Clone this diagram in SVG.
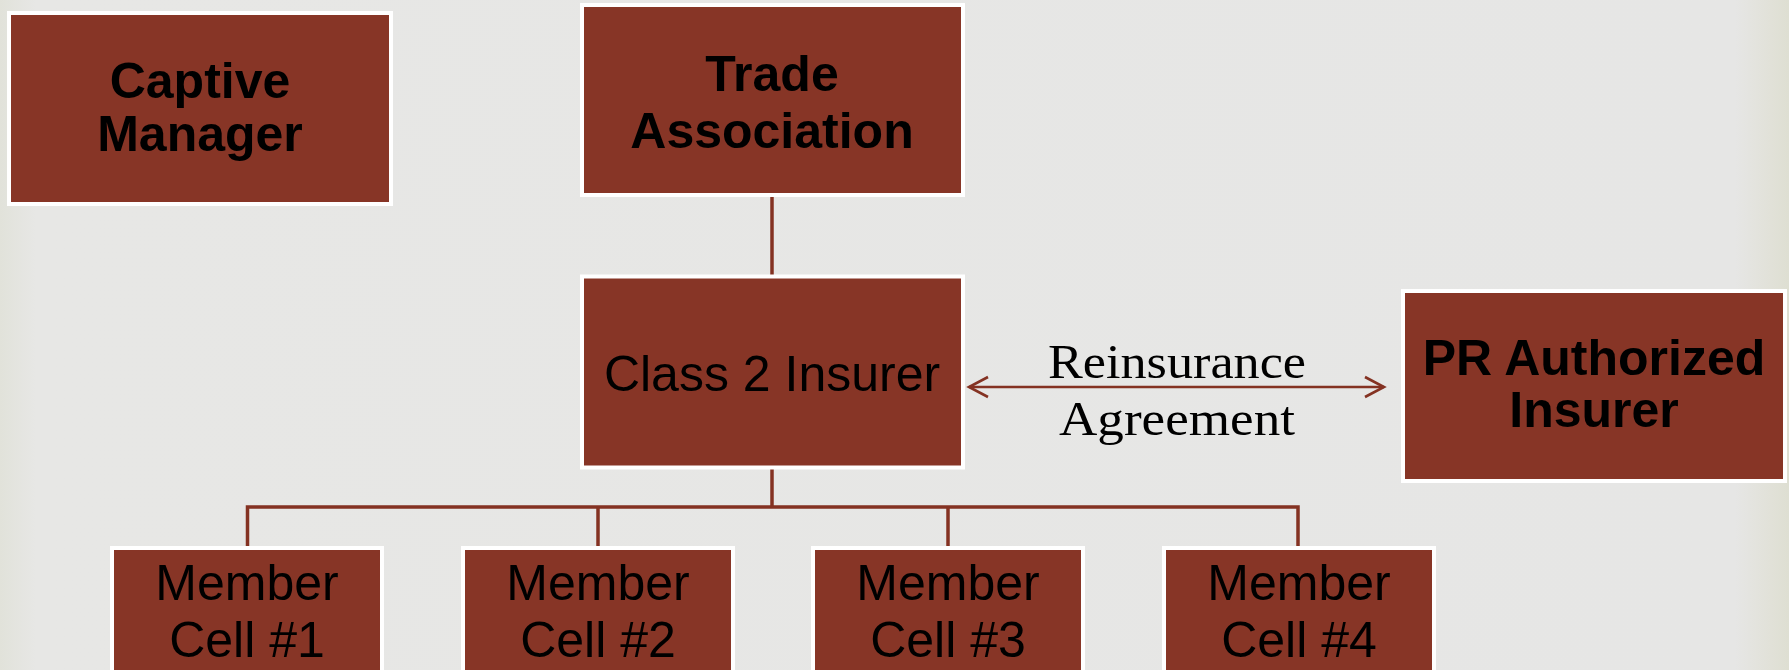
<svg xmlns="http://www.w3.org/2000/svg" width="1789" height="670" viewBox="0 0 1789 670">
  <defs>
    <linearGradient id="bg" x1="0" y1="0" x2="1" y2="0">
      <stop offset="0" stop-color="#e1e2da"/>
      <stop offset="0.02" stop-color="#e7e7e5"/>
      <stop offset="0.97" stop-color="#e6e6e5"/>
      <stop offset="0.99" stop-color="#e1e1d8"/>
      <stop offset="1" stop-color="#dedfd2"/>
    </linearGradient>
    <marker id="arr" viewBox="0 0 24 24" refX="21" refY="12" markerWidth="24" markerHeight="24" markerUnits="userSpaceOnUse" orient="auto-start-reverse">
      <path d="M2,2 L21,12 L2,22" fill="none" stroke="#843222" stroke-width="2.6"/>
    </marker>
    <style>
      .box { fill: #873526; stroke: #ffffff; stroke-width: 4; }
      .bold { font-family: "Liberation Sans", Arial, sans-serif; font-weight: bold; font-size: 50px; fill: #000; text-anchor: middle; }
      .reg { font-family: "Liberation Sans", Arial, sans-serif; font-size: 50px; fill: #000; text-anchor: middle; }
      .serif { font-family: "Liberation Serif", "Times New Roman", serif; font-size: 48px; fill: #000; text-anchor: middle; }
      .conn { stroke: #843222; stroke-width: 3.5; fill: none; }
      .arrow { stroke: #843222; stroke-width: 2.6; fill: none; }
    </style>
  </defs>
  <rect x="0" y="0" width="1789" height="670" fill="url(#bg)"/>

  <g id="connectors">
    <line class="conn" x1="772" y1="197" x2="772" y2="275"/>
    <polyline class="conn" points="772,469 772,507"/>
    <polyline class="conn" points="247.5,546 247.5,507 1298,507 1298,546"/>
    <line class="conn" x1="598" y1="507" x2="598" y2="546"/>
    <line class="conn" x1="948" y1="507" x2="948" y2="546"/>
    <line class="arrow" x1="969" y1="387" x2="1384" y2="387" marker-start="url(#arr)" marker-end="url(#arr)"/>
    <text class="serif" x="1177" y="378" textLength="258" lengthAdjust="spacingAndGlyphs">Reinsurance</text>
    <text class="serif" x="1177" y="435" textLength="236" lengthAdjust="spacingAndGlyphs">Agreement</text>
  </g>

  <g id="captive-manager">
    <rect class="box" x="9" y="13" width="382" height="191"/>
    <text class="bold" x="200" y="98">Captive</text>
    <text class="bold" x="200" y="151">Manager</text>
  </g>

  <g id="trade-association">
    <rect class="box" x="582" y="5" width="381" height="190"/>
    <text class="bold" x="772" y="91">Trade</text>
    <text class="bold" x="772" y="148">Association</text>
  </g>

  <g id="class2-insurer">
    <rect class="box" x="582" y="276.5" width="381" height="191"/>
    <text class="reg" x="772" y="391">Class 2 Insurer</text>
  </g>

  <g id="pr-authorized-insurer">
    <rect class="box" x="1403" y="291" width="382" height="190"/>
    <text class="bold" x="1594" y="375">PR Authorized</text>
    <text class="bold" x="1594" y="427">Insurer</text>
  </g>

  <g id="member-cell-1">
    <rect class="box" x="112" y="548" width="270" height="191"/>
    <text class="reg" x="247" y="600">Member</text>
    <text class="reg" x="247" y="657">Cell #1</text>
  </g>

  <g id="member-cell-2">
    <rect class="box" x="463" y="548" width="270" height="191"/>
    <text class="reg" x="598" y="600">Member</text>
    <text class="reg" x="598" y="657">Cell #2</text>
  </g>

  <g id="member-cell-3">
    <rect class="box" x="813" y="548" width="270" height="191"/>
    <text class="reg" x="948" y="600">Member</text>
    <text class="reg" x="948" y="657">Cell #3</text>
  </g>

  <g id="member-cell-4">
    <rect class="box" x="1164" y="548" width="270" height="191"/>
    <text class="reg" x="1299" y="600">Member</text>
    <text class="reg" x="1299" y="657">Cell #4</text>
  </g>
</svg>
